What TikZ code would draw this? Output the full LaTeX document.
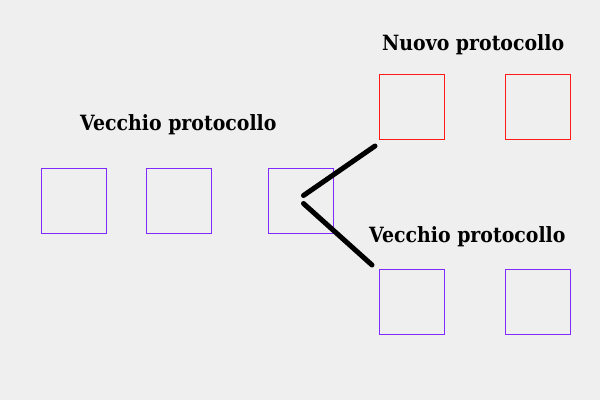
\documentclass[tikz,border=0pt]{standalone}
\usepackage{fontspec}
\setmainfont{DejaVu Serif}[FakeStretch=0.9]
\definecolor{paper}{HTML}{EFEFEF}
\definecolor{purp}{HTML}{7F2BFF}
\definecolor{redb}{HTML}{FF1A1A}
\begin{document}
\begin{tikzpicture}[x=1pt,y=-1pt,
  box/.style={draw=#1,line width=1.4pt,minimum width=65pt,minimum height=65pt,inner sep=0pt,anchor=north west},
  lbl/.style={anchor=base west,inner sep=0pt,font=\fontsize{21}{24}\selectfont\bfseries},
  split/.style={line width=5pt,line cap=round}]
\fill[paper] (0,0) rectangle (600,400);
\useasboundingbox (0,0) rectangle (600,400);
% left row
\node[box=purp] (a1) at (40.5,167.5) {};
\node[box=purp] (a2) at (145.5,167.5) {};
\node[box=purp] (a3) at (267.5,167.5) {};
% top right
\node[box=redb] (n1) at (378.5,73.5) {};
\node[box=redb] (n2) at (504.5,73.5) {};
% bottom right
\node[box=purp] (v1) at (378.5,269) {};
\node[box=purp] (v2) at (504.5,269) {};
% labels
\node[lbl] (t1) at (80,130) {Vecchio protocollo};
\node[lbl] (t2) at (382,50) {Nuovo protocollo};
\node[lbl] (t3) at (369,242.5) {Vecchio protocollo};
% split lines
\coordinate (p1) at (303.5,195.5);
\coordinate (p2) at (303.5,203.5);
\coordinate (e1) at (375,146);
\coordinate (e2) at (372,265);
\draw[split] (p1) -- (e1);
\draw[split] (p2) -- (e2);
\end{tikzpicture}
\end{document}
